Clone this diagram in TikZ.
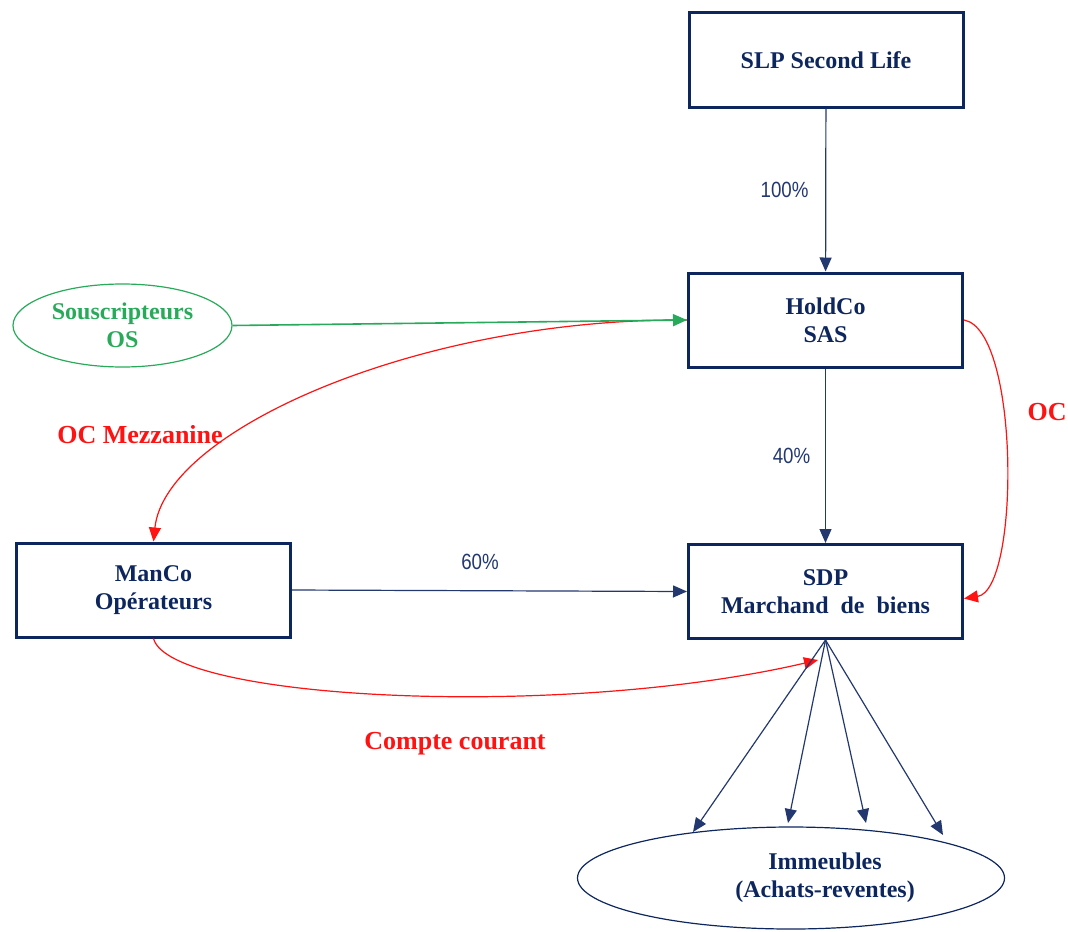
\documentclass[tikz,border=0pt]{standalone}
\usepackage{fontspec}
\setmainfont{Liberation Serif}
\newfontfamily\pctfont[FakeStretch=0.85]{Liberation Sans}
\usetikzlibrary{arrows.meta,shapes.geometric,calc}
\definecolor{navy}{RGB}{14,38,94}
\definecolor{linkblue}{RGB}{36,56,112}
\definecolor{osgreen}{RGB}{40,170,90}
\definecolor{ocred}{RGB}{255,18,18}

\begin{document}
\begin{tikzpicture}[x=0.5pt,y=-0.5pt,
  entity/.style={draw=navy,line width=1.5pt,text=navy,
    font=\bfseries\fontsize{12}{14}\selectfont,align=center,
    minimum width=137pt,minimum height=47pt,inner sep=0pt},
  oval/.style={ellipse,draw=#1,line width=0.6pt,
    font=\bfseries\fontsize{12}{14}\selectfont,align=center,inner sep=0pt},
  tip/.style={-{Triangle[length=7pt,width=6pt]}},
  link/.style={tip,draw=linkblue,line width=0.6pt},
  redlink/.style={tip,draw=ocred,line width=0.6pt},
  greenlink/.style={tip,draw=osgreen,line width=0.8pt},
  pct/.style={text=linkblue,font=\pctfont\fontsize{11}{13}\selectfont},
  redlabel/.style={text=ocred,font=\bfseries\fontsize{13}{15}\selectfont}]
\useasboundingbox (0,0) rectangle (1068,931);

% entities
\node[entity] (slp)  at (826,60)    {SLP Second Life};
\node[entity] (hold) at (825.5,320) {HoldCo\\SAS};
\node[entity] (sdp)  at (825.5,591.5) {SDP\\Marchand\ \ de\ \ biens};
\node[entity] (manco) at (153.5,590) {ManCo\\Opérateurs};
\node[oval=osgreen,text=osgreen,minimum width=109.5pt,minimum height=41.5pt]
  (sous) at (122.5,325.5) {Souscripteurs\\OS};
\node[oval=navy,text=navy,minimum width=213.5pt,minimum height=51pt]
  (imm) at (791,878) {\hspace*{34pt}Immeubles\\\hspace*{34pt}(Achats-reventes)};

% free ends of the fan and of the current-account link
\coordinate (i1) at (693,832);
\coordinate (i2) at (788,823);
\coordinate (i3) at (866,823);
\coordinate (i4) at (943,835);
\coordinate (cc) at (818,660);

% shareholding links
\draw[link] (slp) -- (hold) node[pct,midway,left=5pt] {100\%};
\draw[link] (hold) -- (sdp) node[pct,midway,left=4pt] {40\%};
\draw[link] (manco.east) -- (sdp.west);
\node[pct] (p60) at (480,562) {60\%};

% financing flows
\draw[redlink] (hold.west) .. controls (420,318) and (165,430) .. (manco.north);
\draw[greenlink] (sous.east) -- (hold.west);
\draw[redlink] (hold.east) .. controls (1020,330) and (1020,590) .. ($(sdp.east)+(0,7)$);
\draw[redlink] (manco.south) .. controls (170,700) and (560,720) .. (cc);

% property acquisitions
\foreach \p in {i1,i2,i3,i4} \draw[link] (sdp.south) -- (\p);

% flow labels
\node[redlabel] (lmez) at (140,435) {OC Mezzanine};
\node[redlabel] (loc)  at (1047,412) {OC};
\node[redlabel] (lcc)  at (455,744) {Compte courant};
\end{tikzpicture}
\end{document}
